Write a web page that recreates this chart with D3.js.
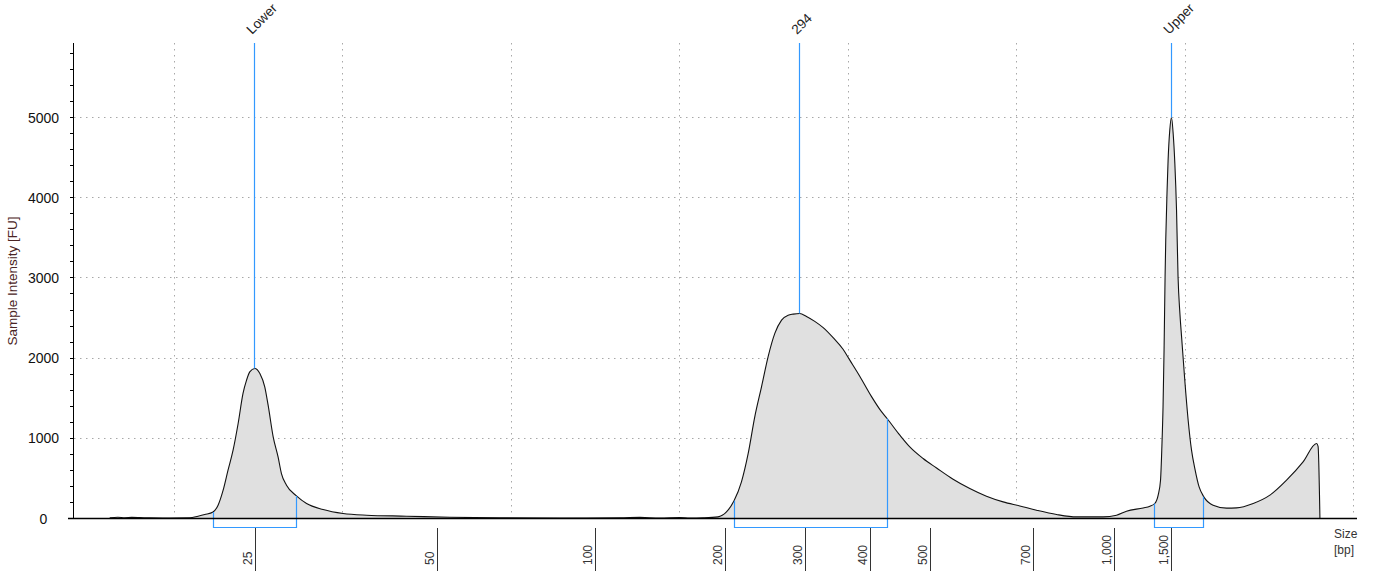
<!DOCTYPE html>
<html><head><meta charset="utf-8">
<script src="https://cdn.jsdelivr.net/npm/d3@7"></script>
<style>body{margin:0;background:#fff;} svg{display:block;}</style>
</head><body><svg id="c" width="1387" height="571"></svg>
<script>
// Electropherogram trace: migration time (s) and intensity (FU)
const timeS = [16.18,16.66,17.07,17.49,17.96,18.56,19.74,20.93,21.42,21.82,22.31,22.61,22.91,23.20,23.50,23.80,24.09,24.30,24.49,24.79,25.09,25.38,25.58,25.88,26.17,26.37,26.67,27.26,27.86,28.84,30.03,31.42,33.79,36.36,39.33,42.89,46.45,47.64,48.83,50.01,50.61,51.39,52.28,52.78,53.23,53.67,54.07,54.46,54.86,55.25,55.65,56.05,56.44,56.74,57.13,57.53,58.02,58.52,59.11,59.70,60.10,60.69,61.39,61.98,62.31,63.07,63.66,64.45,65.25,66.23,67.22,68.21,69.20,70.19,71.18,72.37,73.56,75.13,75.93,76.52,77.51,77.91,78.20,78.40,78.54,78.62,78.69,78.75,78.81,78.85,78.93,78.99,79.09,79.19,79.29,79.39,79.49,79.58,79.69,79.79,79.98,80.18,80.38,80.58,80.83,81.11,81.66,82.46,83.05,84.04,85.03,86.02,87.00,87.80,87.89,88.00];
const intensityFU = [8,15,10,14,12,8,6,8,29,50,82,166,353,603,852,1185,1560,1725,1829,1871,1809,1642,1413,1018,768,561,415,282,187,112,62,41,29,15,8,6,8,14,6,12,5,8,20,82,220,457,811,1268,1642,2016,2308,2474,2536,2549,2557,2520,2458,2380,2255,2110,1975,1775,1520,1332,1247,1039,893,748,630,490,374,278,207,157,104,50,20,20,41,91,132,153,187,291,478,893,1400,2100,3014,3472,4096,4470,4844,5000,4802,4428,3846,3014,2557,2265,1725,1226,852,620,394,270,166,129,132,187,291,478,706,935,900,0];

// Size ladder calibration (bp labels at their migration times)
const bpTickLabels = ["25","50","100","200","300","400","500","700","1,000","1,500"];
const bpTickTimes = [24.81,35.65,45.03,52.72,57.45,61.31,64.91,71.00,75.83,79.19];

// Peaks
const peakLabels = ["Lower","294","Upper"];
const peakTimes = [24.79,57.13,79.19];
const regionStart = [22.31,53.23,78.20];
const regionEnd = [27.26,62.31,81.11];

// Axes
const yTicks = [0,1000,2000,3000,4000,5000];
const yMinorTicks = d3.range(0,5901,200);
const timeGrid = [20,30,40,50,60,70,80,90];
const yTitle = "Sample Intensity [FU]";
const xTitle = ["Size","[bp]"];

const svg = d3.select("#c");
const x = d3.scaleLinear().domain([14,90.2]).range([73,1357]);
const y = d3.scaleLinear().domain([0,5930]).range([518.5,43]);
const pts = timeS.map((t,i)=>[t,intensityFU[i]]);
const bis = d3.bisector(d=>d[0]).left;
function valAt(t){
  const i = bis(pts,t);
  if(i<=0) return pts[0][1];
  if(i>=pts.length) return pts[pts.length-1][1];
  const a=pts[i-1], b=pts[i];
  return a[1]+(b[1]-a[1])*(t-a[0])/(b[0]-a[0]);
}
const crisp = v => Math.round(v-0.5)+0.5;
const grid = svg.append("g").attr("stroke","#a8a8a8").attr("stroke-width",1).attr("stroke-dasharray","1.5,4.5");
yTicks.filter(d=>d>0).forEach(d=>{
  grid.append("line").attr("x1",74).attr("x2",1357).attr("y1",crisp(y(d))).attr("y2",crisp(y(d)));
});
timeGrid.forEach(t=>{
  grid.append("line").attr("x1",crisp(x(t))).attr("x2",crisp(x(t))).attr("y1",43).attr("y2",517);
});

// area + line
const area = d3.area().x(d=>x(d[0])).y0(y(0)).y1(d=>y(d[1])).curve(d3.curveMonotoneX);
const line = d3.line().x(d=>x(d[0])).y(d=>y(d[1])).curve(d3.curveMonotoneX);
svg.append("path").datum(pts).attr("d",area).attr("fill","#e0e0e0");
svg.append("path").datum(pts).attr("d",line).attr("fill","none").attr("stroke","#111").attr("stroke-width",1.1);

// peak marker lines + labels
const blue = "#3399ff";
peakTimes.forEach((t,i)=>{
  const px = crisp(x(t));
  svg.append("line").attr("x1",px).attr("x2",px).attr("y1",43).attr("y2",y(valAt(t))).attr("stroke",blue).attr("stroke-width",1.2);
  svg.append("text").attr("transform",`translate(${px-2.5},35) rotate(-45)`)
    .attr("font-family","Liberation Sans, Arial, sans-serif").attr("font-size",13.5).attr("fill","#222").text(peakLabels[i]);
});
// integration brackets
const bY = 527.5;
regionStart.forEach((s,i)=>{
  const e = regionEnd[i];
  const xs = crisp(x(s)), xe = crisp(x(e));
  svg.append("path").attr("d",`M${xs},${y(valAt(s))}L${xs},${bY}L${xe},${bY}L${xe},${y(valAt(e))}`)
    .attr("fill","none").attr("stroke",blue).attr("stroke-width",1.2);
});

// axes
svg.append("line").attr("x1",68).attr("x2",1357).attr("y1",518.5).attr("y2",518.5).attr("stroke","#000").attr("stroke-width",1.6);
svg.append("line").attr("x1",73.5).attr("x2",73.5).attr("y1",43).attr("y2",518.5).attr("stroke","#000").attr("stroke-width",1);
yMinorTicks.forEach(d=>{
  svg.append("line").attr("x1",70).attr("x2",73.5).attr("y1",crisp(y(d))).attr("y2",crisp(y(d))).attr("stroke","#000");
});
yTicks.forEach(d=>{
  svg.append("text").attr("x",43.5).attr("y",y(d)+5).attr("text-anchor","middle")
    .attr("font-family","Liberation Sans, Arial, sans-serif").attr("font-size",14).attr("fill","#111").text(d);
});
svg.append("text").attr("transform","translate(17,281) rotate(-90)").attr("text-anchor","middle")
  .attr("font-family","Liberation Sans, Arial, sans-serif").attr("font-size",13.5).attr("fill","#4a2424").text(yTitle);

// bp ticks
bpTickTimes.forEach((t,i)=>{
  const px = crisp(x(t));
  svg.append("line").attr("x1",px).attr("x2",px).attr("y1",528).attr("y2",571).attr("stroke","#333").attr("stroke-width",1);
  svg.append("text").attr("transform",`translate(${px-3.5},565) rotate(-90)`)
    .attr("font-family","Liberation Sans, Arial, sans-serif").attr("font-size",12).attr("fill","#333").text(bpTickLabels[i]);
});
xTitle.forEach((s,i)=>{
  svg.append("text").attr("x",1334).attr("y",538+i*16).attr("font-family","Liberation Sans, Arial, sans-serif")
    .attr("font-size",12).attr("fill","#333").text(s);
});
</script></body></html>
